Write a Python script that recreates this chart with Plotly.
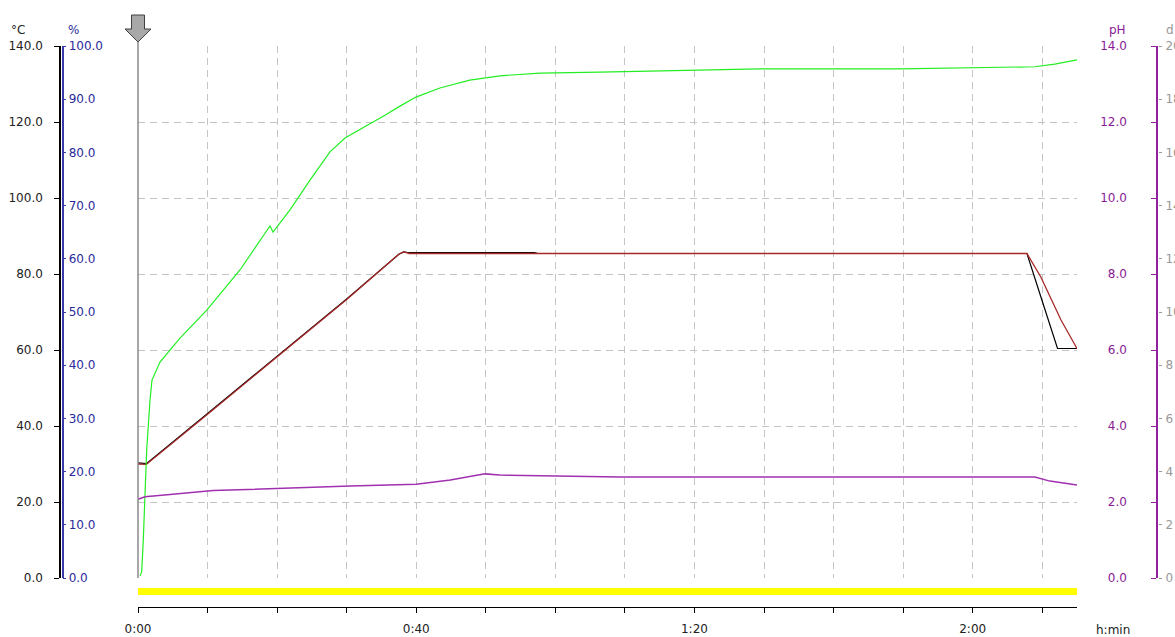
import plotly.graph_objects as go

# ---------------- data ----------------
# time in minutes
t_black = [0, 1.2, 10.0, 20.0, 30.0, 37.5, 38.2, 39.0, 57.0, 57.5, 127.8, 129.8, 132.2, 135.0]
temp_black = [30.3, 30.1, 43.3, 58.3, 73.4, 85.2, 85.8, 85.6, 85.6, 85.4, 85.4, 74.0, 60.4, 60.4]

t_red = [0, 1.2, 10.0, 20.0, 30.0, 37.5, 38.2, 39.0, 127.8, 129.8, 131.0, 132.7, 135.0]
temp_red = [30.0, 29.9, 43.1, 58.2, 73.3, 85.2, 85.8, 85.4, 85.4, 79.2, 74.5, 67.9, 60.4]

t_green = [0.29, 0.53, 0.76, 1.0, 1.25, 1.73, 2.01, 3.16, 6.04, 9.92, 14.66, 18.26, 18.98,
           19.41, 21.85, 24.73, 27.6, 29.76, 32.63, 35.5, 37.66, 39.96, 43.4, 47.7, 52.03,
           57.79, 66.4, 80.8, 89.4, 109.5, 128.95, 131.8, 135.0]
pct_green = [0.4, 1.2, 7.1, 14.7, 24.1, 33.5, 37.2, 40.6, 45.1, 50.4, 57.9, 64.8, 66.2,
             65.0, 69.2, 74.8, 80.1, 82.7, 84.8, 87.0, 88.7, 90.4, 92.1, 93.6, 94.4,
             94.9, 95.1, 95.5, 95.7, 95.7, 96.1, 96.6, 97.4]

t_ph = [0, 1.0, 4.6, 10.8, 30.5, 40.0, 44.9, 47.7, 49.9, 52.0, 66.4, 69.3, 128.95, 131.1, 135.0]
ph_vals = [2.07, 2.14, 2.2, 2.3, 2.42, 2.47, 2.58, 2.68, 2.74, 2.71, 2.68, 2.66, 2.66, 2.55, 2.45]

x_tick_vals = [0, 10, 20, 30, 40, 50, 60, 70, 80, 90, 100, 110, 120, 130]
x_tick_text = ["0:00", "", "", "", "0:40", "", "", "", "1:20", "", "", "", "2:00", ""]

W, H = 1175, 637
FONT = "DejaVu Sans"
FS = 12

def px_x(p):
    return p / W

def px_y(p):
    return (H - p) / H

x_dom = [px_x(138), px_x(1077)]
y_dom = [px_y(578), px_y(46)]

fig = go.Figure()

fig.add_trace(go.Scatter(x=t_ph, y=ph_vals, mode="lines", xaxis="x", yaxis="y3",
                         line=dict(color="#a030b0", width=1.5), hoverinfo="skip"))
fig.add_trace(go.Scatter(x=t_green, y=pct_green, mode="lines", xaxis="x", yaxis="y2",
                         line=dict(color="#22ee22", width=1.2), hoverinfo="skip"))
fig.add_trace(go.Scatter(x=t_black, y=temp_black, mode="lines", xaxis="x", yaxis="y",
                         line=dict(color="#000000", width=1.2), hoverinfo="skip"))
fig.add_trace(go.Scatter(x=t_red, y=temp_red, mode="lines", xaxis="x", yaxis="y",
                         line=dict(color="#a82828", width=1.3), hoverinfo="skip"))
# invisible anchors so the extra axes are drawn
fig.add_trace(go.Scatter(x=t_ph[:1], y=ph_vals[:1], mode="markers", xaxis="x", yaxis="y4",
                         marker=dict(opacity=0), hoverinfo="skip"))
fig.add_trace(go.Scatter(x=t_ph[:1], y=temp_red[:1], mode="markers", xaxis="x2", yaxis="y",
                         marker=dict(opacity=0), hoverinfo="skip"))

grid = dict(showgrid=True, gridcolor="#c4c4c4", griddash="7px,5px", gridwidth=1)

fig.update_layout(
    width=W, height=H,
    margin=dict(l=0, r=0, t=0, b=0, autoexpand=False),
    paper_bgcolor="white", plot_bgcolor="white",
    showlegend=False,
    font=dict(family=FONT, size=FS, color="#222"),
    xaxis=dict(domain=x_dom, range=[0, 135], dtick=10, tick0=0, showticklabels=False,
               ticks="", showline=False, zeroline=False, anchor="y", automargin=False, **grid),
    xaxis2=dict(overlaying="x", range=[0, 135], anchor="free", position=px_y(607),
                showline=True, linecolor="black", linewidth=1, ticks="outside", ticklen=5,
                tickcolor="black", tickmode="array", tickvals=x_tick_vals, ticktext=x_tick_text,
                tickfont=dict(family=FONT, size=FS, color="#222"), showgrid=False,
                zeroline=False, ticklabelstandoff=6, automargin=False),
    yaxis=dict(domain=y_dom, range=[0, 140], tickvals=[0, 20, 40, 60, 80, 100, 120, 140],
               tickformat=".1f", anchor="free", position=px_x(60), side="left",
               showline=True, linecolor="black", linewidth=1.5, ticks="outside", ticklen=5,
               tickcolor="black", tickfont=dict(family=FONT, size=FS, color="#222"),
               zeroline=False, ticklabelstandoff=9, automargin=False, **grid),
    yaxis2=dict(overlaying="y", range=[0, 100], dtick=10, tick0=0, tickformat=".1f",
                anchor="free", position=px_x(62.5), side="right", showline=True,
                linecolor="#3a3aa8", linewidth=1.5, ticks="outside", ticklen=3,
                tickcolor="#3a3aa8", tickfont=dict(family=FONT, size=FS, color="#2a2a9a"),
                showgrid=False, zeroline=False, ticklabelstandoff=0, automargin=False),
    yaxis3=dict(overlaying="y", range=[0, 14], dtick=2, tick0=0, tickformat=".1f",
                anchor="free", position=px_x(1157), side="left", showline=True,
                linecolor="#9020a0", linewidth=1.5, ticks="outside", ticklen=5,
                tickcolor="#9020a0", tickfont=dict(family=FONT, size=FS, color="#8a1a96"),
                showgrid=False, zeroline=False, ticklabelstandoff=22, automargin=False),
    yaxis4=dict(overlaying="y", range=[0, 20], dtick=2, tick0=0, tickformat="d",
                anchor="free", position=px_x(1158), side="right", showline=False,
                ticks="outside", ticklen=3, tickcolor="#999",
                tickfont=dict(family=FONT, size=FS, color="#999"),
                showgrid=False, zeroline=False, ticklabelstandoff=1, automargin=False),
)

shapes = [
    # yellow status bar
    dict(type="rect", xref="x", yref="paper", x0=0, x1=135, y0=px_y(595), y1=px_y(588),
         fillcolor="#ffff00", line=dict(width=0), layer="above"),
    # cursor line
    dict(type="line", xref="paper", yref="paper", x0=px_x(138), x1=px_x(138),
         y0=px_y(578), y1=px_y(42), line=dict(color="#8a8a8a", width=1.5)),
    # cursor arrow
    dict(type="path", xref="paper", yref="paper",
         path=(f"M {px_x(131.5)} {px_y(15)} L {px_x(144.5)} {px_y(15)} L {px_x(144.5)} {px_y(29)} "
               f"L {px_x(151)} {px_y(29)} L {px_x(138)} {px_y(42)} L {px_x(125)} {px_y(29)} "
               f"L {px_x(131.5)} {px_y(29)} Z"),
         fillcolor="#a8a8a8", line=dict(color="#404040", width=1)),
]
fig.update_layout(shapes=shapes)

ann = [
    dict(text="°C", x=px_x(9), y=px_y(30), color="#222", xanchor="left"),
    dict(text="%", x=px_x(73), y=px_y(30), color="#2a2a9a", xanchor="center"),
    dict(text="pH", x=px_x(1107), y=px_y(30), color="#8a1a96", xanchor="left"),
    dict(text="d", x=px_x(1164), y=px_y(30), color="#999", xanchor="left"),
    dict(text="h:min", x=px_x(1094), y=px_y(630), color="#222", xanchor="left"),
]
for a in ann:
    fig.add_annotation(text=a["text"], x=a["x"], y=a["y"], xref="paper", yref="paper",
                       xanchor=a["xanchor"], yanchor="middle", showarrow=False,
                       font=dict(family=FONT, size=FS, color=a["color"]))

fig.write_html(
    "out.html",
    config={"displayModeBar": False},
    post_script="document.body.style.margin='0';document.body.style.overflow='hidden';"
                "document.documentElement.style.overflow='hidden';",
)
